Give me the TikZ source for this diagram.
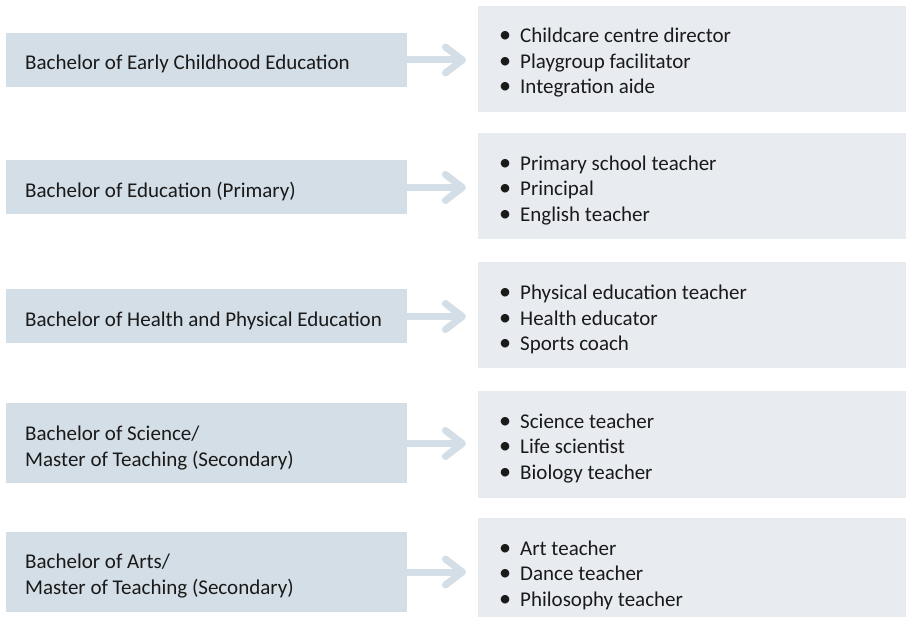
\documentclass[tikz,border=0pt]{standalone}
\usepackage{fontspec}
\setmainfont{Carlito}
\usetikzlibrary{calc}
\definecolor{leftc}{HTML}{D3DEE6}
\definecolor{rightc}{HTML}{E8ECF0}
\definecolor{arrc}{HTML}{D3DEE6}
\definecolor{txt}{HTML}{1A1A1A}
\newcommand{\bl}[1]{\makebox[21pt][l]{\scalebox{1.15}{\textbullet}}#1}
\begin{document}
\begin{tikzpicture}[x=1pt,y=-1pt,
  degbox/.style={fill=leftc, anchor=west, minimum width=401pt, inner sep=0pt},
  degtext/.style={anchor=west, inner sep=0pt, align=left, text=txt, font=\fontsize{21}{26}\selectfont},
  jobbox/.style={fill=rightc, anchor=west, minimum width=428pt, minimum height=106pt, inner sep=0pt},
  jobtext/.style={anchor=west, inner sep=0pt, align=left, text=txt, font=\fontsize{21}{25.5}\selectfont},
  shaft/.style={draw=arrc, line width=7pt},
  chev/.style={draw=arrc, line width=7pt, line cap=round, line join=round}]
\useasboundingbox (0,0) rectangle (908,617);

\node[degbox, minimum height=54pt] (l1) at (6,60) {};
\node[degbox, minimum height=54pt] (l2) at (6,187.5) {};
\node[degbox, minimum height=54pt] (l3) at (6,316.5) {};
\node[degbox, minimum height=80pt] (l4) at (6,443.5) {};
\node[degbox, minimum height=80pt] (l5) at (6,572) {};

\node[degtext] (lt1) at ($(l1.west)+(19,4)$) {Bachelor of Early Childhood Education};
\node[degtext] (lt2) at ($(l2.west)+(19,4)$) {Bachelor of Education (Primary)};
\node[degtext] (lt3) at ($(l3.west)+(19,4)$) {Bachelor of Health and Physical Education};
\node[degtext] (lt4) at ($(l4.west)+(19,4.5)$) {Bachelor of Science/\\Master of Teaching (Secondary)};
\node[degtext] (lt5) at ($(l5.west)+(19,4.5)$) {Bachelor of Arts/\\Master of Teaching (Secondary)};

\node[jobbox] (r1) at (478,59) {};
\node[jobbox] (r2) at (478,186.5) {};
\node[jobbox] (r3) at (478,315.5) {};
\node[jobbox] (r4) at (478,444.5) {};
\node[jobbox] (r5) at (478,571) {};

\node[jobtext] (rt1) at ($(r1.west)+(21,4)$) {\bl{Childcare centre director}\\\bl{Playgroup facilitator}\\\bl{Integration aide}};
\node[jobtext] (rt2) at ($(r2.west)+(21,4)$) {\bl{Primary school teacher}\\\bl{Principal}\\\bl{English teacher}};
\node[jobtext] (rt3) at ($(r3.west)+(21,4)$) {\bl{Physical education teacher}\\\bl{Health educator}\\\bl{Sports coach}};
\node[jobtext] (rt4) at ($(r4.west)+(21,4)$) {\bl{Science teacher}\\\bl{Life scientist}\\\bl{Biology teacher}};
\node[jobtext] (rt5) at ($(r5.west)+(21,4)$) {\bl{Art teacher}\\\bl{Dance teacher}\\\bl{Philosophy teacher}};

\foreach \i in {1,...,5}{
  \coordinate (t\i) at ($(l\i.east)+(55,0)$);
  \draw[shaft] (l\i.east) -- ($(t\i)+(-3,0)$);
  \draw[chev] ($(t\i)+(-17,-13)$) -- (t\i) -- ($(t\i)+(-17,13)$);
}
\end{tikzpicture}
\end{document}
